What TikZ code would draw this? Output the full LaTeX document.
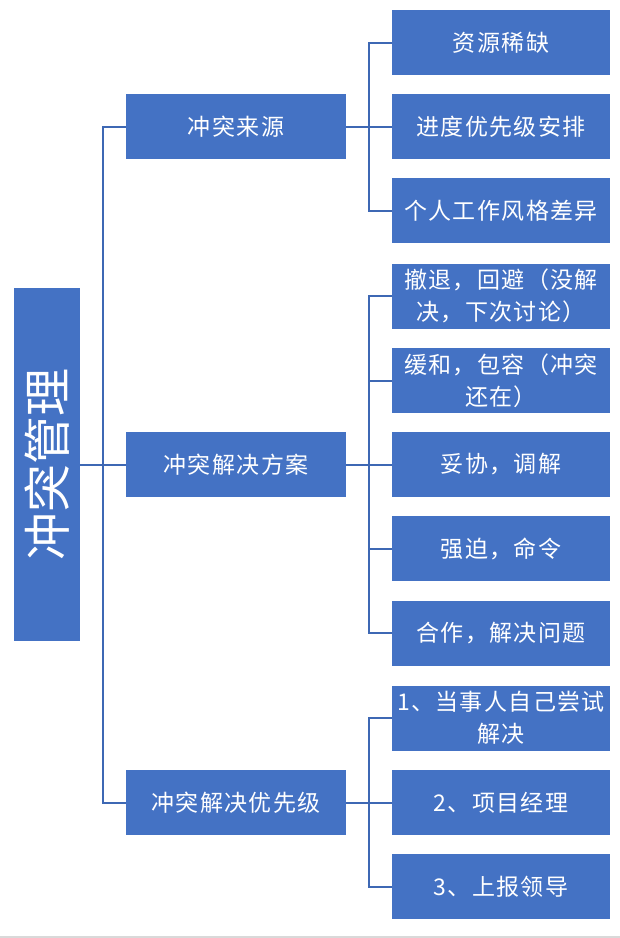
\documentclass[tikz,border=0pt]{standalone}
\usepackage{fontspec}
\setmainfont{Noto Sans CJK SC}
\usepackage{graphicx}
\definecolor{boxblue}{HTML}{4472C4}
\definecolor{lineblue}{HTML}{3E68B4}
\definecolor{rulegray}{HTML}{D9D9D9}
\tikzset{
  every node/.style={inner sep=0pt, outer sep=0pt},
  rootbox/.style={rectangle, fill=boxblue, text=white, minimum width=66pt, minimum height=353pt},
  lonebox/.style={rectangle, fill=boxblue, text=white, minimum width=220pt, minimum height=65pt, align=center, font=\fontsize{23}{32}\selectfont\addfontfeature{LetterSpace=6}},
  ltwobox/.style={rectangle, fill=boxblue, text=white, minimum width=218pt, minimum height=65pt, align=center, font=\fontsize{23}{32}\selectfont\addfontfeature{LetterSpace=6}},
  conn/.style={draw=lineblue, line width=2pt}
}
\begin{document}
\begin{tikzpicture}[x=1pt, y=-1pt]
\useasboundingbox (0,0) rectangle (620,938);
\fill[rulegray] (0,935.5) rectangle (620,938);

\node[rootbox] (root) at (47,464.5) {\rotatebox{90}{\fontsize{48}{48}\selectfont 冲突管理}};

\node[lonebox] (a) at (236,126.5) {冲突来源};
\node[lonebox] (b) at (236,464.5) {冲突解决方案};
\node[lonebox] (c) at (236,802.5) {冲突解决优先级};

\node[ltwobox] (a1) at (501,42.5) {资源稀缺};
\node[ltwobox] (a2) at (501,126.5) {进度优先级安排};
\node[ltwobox] (a3) at (501,210.5) {个人工作风格差异};

\node[ltwobox] (b1) at (501,296) {撤退，回避（没解\\决，下次讨论）};
\node[ltwobox] (b2) at (501,380.5) {缓和，包容（冲突\\还在）};
\node[ltwobox] (b3) at (501,464.5) {妥协，调解};
\node[ltwobox] (b4) at (501,548.5) {强迫，命令};
\node[ltwobox] (b5) at (501,633) {合作，解决问题};

\node[ltwobox] (c1) at (501,718) {1、当事人自己尝试\\解决};
\node[ltwobox] (c2) at (501,802.5) {2、项目经理};
\node[ltwobox] (c3) at (501,886.5) {3、上报领导};

\coordinate (j0) at (103,464.5);
\coordinate (ja) at (369,126.5);
\coordinate (jb) at (369,464.5);
\coordinate (jc) at (369,802.5);

\draw[conn] (root.east) -- (j0);
\draw[conn] (j0) |- (a.west);
\draw[conn] (j0) -- (b.west);
\draw[conn] (j0) |- (c.west);

\draw[conn] (a.east) -- (ja);
\draw[conn] (ja) |- (a1.west);
\draw[conn] (ja) -- (a2.west);
\draw[conn] (ja) |- (a3.west);

\draw[conn] (b.east) -- (jb);
\draw[conn] (jb) |- (b1.west);
\draw[conn] (jb) |- (b2.west);
\draw[conn] (jb) -- (b3.west);
\draw[conn] (jb) |- (b4.west);
\draw[conn] (jb) |- (b5.west);

\draw[conn] (c.east) -- (jc);
\draw[conn] (jc) |- (c1.west);
\draw[conn] (jc) -- (c2.west);
\draw[conn] (jc) |- (c3.west);
\end{tikzpicture}
\end{document}
